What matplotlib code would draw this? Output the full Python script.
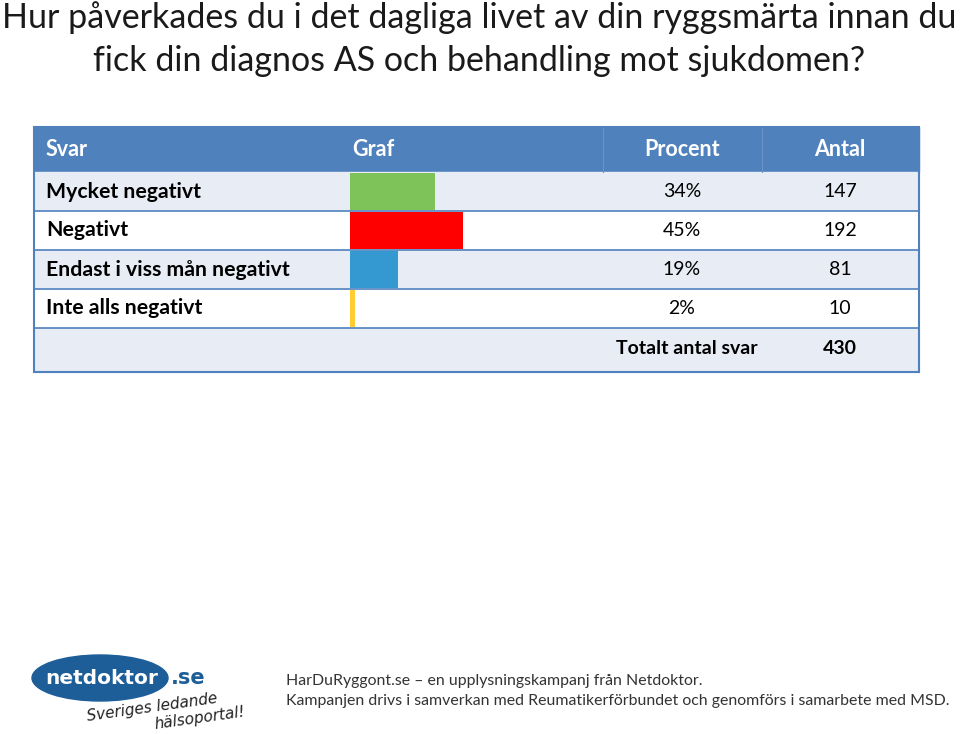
import matplotlib.pyplot as plt
from matplotlib.patches import Rectangle, Ellipse

plt.rcParams['font.family'] = ['Lato', 'DejaVu Sans']

title_lines = ['Hur påverkades du i det dagliga livet av din ryggsmärta innan du',
               'fick din diagnos AS och behandling mot sjukdomen?']
headers = ['Svar', 'Graf', 'Procent', 'Antal']
answers = ['Mycket negativt', 'Negativt', 'Endast i viss mån negativt', 'Inte alls negativt']
percent = [34, 45, 19, 2]
counts = [147, 192, 81, 10]
bar_colors = ['#7DC35A', '#FF0000', '#3399D0', '#FFCC33']
total_label = 'Totalt antal svar'
total = 430
footer_lines = ['HarDuRyggont.se – en upplysningskampanj från Netdoktor.',
                'Kampanjen drivs i samverkan med Reumatikerförbundet och genomförs i samarbete med MSD.']

W, H = 960, 734
fig = plt.figure(figsize=(W / 100, H / 100), dpi=100)
ax = fig.add_axes([0, 0, 1, 1])
ax.set_xlim(0, W)
ax.set_ylim(H, 0)
ax.axis('off')

# title
ax.text(479, 18, title_lines[0], ha='center', va='center', fontsize=24.5, color='#1a1a1a')
ax.text(479, 61, title_lines[1], ha='center', va='center', fontsize=24.5, color='#1a1a1a')

# table geometry
left, right = 34, 919
head_top, head_bot = 127, 172
row_h = 39
total_bot = head_bot + row_h * 4 + 44
blue = '#4F81BD'
light = '#E7ECF5'

ax.add_patch(Rectangle((left, head_top), right - left, head_bot - head_top, color=blue, zorder=1))
for x in [603, 762]:
    ax.plot([x, x], [head_top, head_bot], color='#6B93C6', lw=0.8, zorder=2)
hy = (head_top + head_bot) / 2
ax.text(46, hy, headers[0], ha='left', va='center', color='white', fontsize=15.5, fontweight='bold')
ax.text(352, hy, headers[1], ha='left', va='center', color='white', fontsize=15.5, fontweight='bold')
ax.text(682, hy, headers[2], ha='center', va='center', color='white', fontsize=15.5, fontweight='bold')
ax.text(840, hy, headers[3], ha='center', va='center', color='white', fontsize=15.5, fontweight='bold')

for i, (lab, p, c) in enumerate(zip(answers, percent, counts)):
    y0 = head_bot + i * row_h
    ax.add_patch(Rectangle((left, y0), right - left, row_h,
                           color=light if i % 2 == 0 else 'white', zorder=1))
    yc = y0 + row_h / 2
    ax.text(46, yc, lab, ha='left', va='center', fontsize=15.3, fontweight='bold', color='black')
    ax.text(682, yc, f'{p}%', ha='center', va='center', fontsize=14, color='black')
    ax.text(840, yc, str(c), ha='center', va='center', fontsize=14, color='black')

y0 = head_bot + 4 * row_h
ax.add_patch(Rectangle((left, y0), right - left, total_bot - y0, color=light, zorder=1))
yc = y0 + 20
ax.text(687, yc, total_label, ha='center', va='center', fontsize=14, fontweight='bold', color='black')
ax.text(840, yc, str(total), ha='center', va='center', fontsize=14, fontweight='bold', color='black')

# row borders
for i in range(1, 5):
    y = head_bot + i * row_h
    ax.plot([left, right], [y, y], color=blue, lw=1.2, zorder=3)
ax.add_patch(Rectangle((left, head_top), right - left, total_bot - head_top,
                       fill=False, edgecolor=blue, lw=1.5, zorder=4))

# bars in their own axes: 0..100 % over x 350..600 px
bx0, bx1 = 350, 600
bax = fig.add_axes([bx0 / W, 1 - (head_bot + 4 * row_h) / H, (bx1 - bx0) / W, 4 * row_h / H])
bax.barh(range(len(percent)), percent, height=0.97, color=bar_colors, zorder=5)
bax.set_xlim(0, 100)
bax.set_ylim(3.5, -0.5)
bax.axis('off')

# footer
ax.text(286, 681, footer_lines[0], ha='left', va='center', fontsize=11.4, color='#333333')
ax.text(286, 701, footer_lines[1], ha='left', va='center', fontsize=11.4, color='#333333')

# logo
ax.add_patch(Ellipse((100, 678), 136, 46, color='#1D5E99', zorder=2))
ax.text(102, 678, 'netdoktor', ha='center', va='center', color='white', fontsize=14.5,
        fontweight='bold', family=['DejaVu Sans'], zorder=3)
ax.text(171, 678, '.se', ha='left', va='center', color='#1D5E99', fontsize=15,
        fontweight='bold', family=['DejaVu Sans'], zorder=3)
ax.text(152, 707, 'Sveriges ledande', ha='center', va='center', fontsize=11, style='italic',
        rotation=8, color='#222222', family=['DejaVu Sans'])
ax.text(200, 718, 'hälsoportal!', ha='center', va='center', fontsize=11, style='italic',
        rotation=8, color='#222222', family=['DejaVu Sans'])

fig.savefig('out.png', dpi=100)
